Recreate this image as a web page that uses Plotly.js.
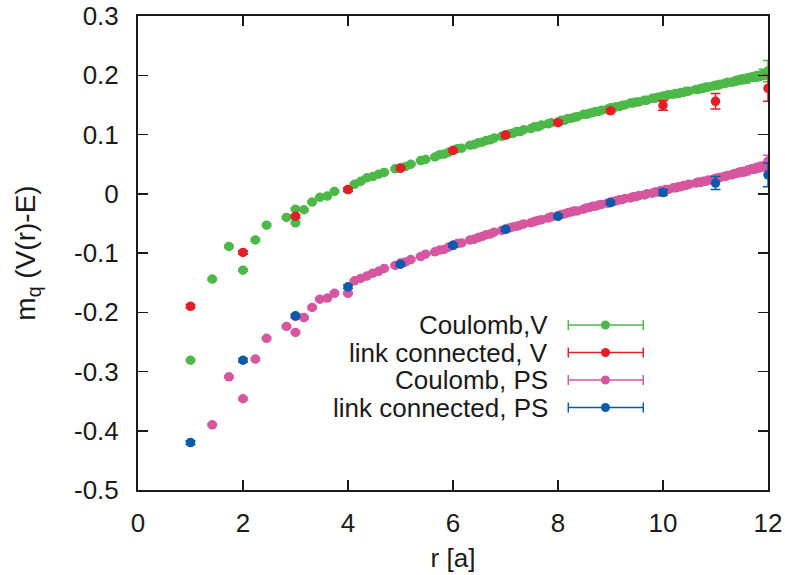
<!DOCTYPE html>
<html>
<head>
<meta charset="utf-8">
<script src="https://cdn.plot.ly/plotly-3.0.1.min.js"></script>
<style>html,body{margin:0;padding:0;background:#fff}#chart{width:785px;height:575px}</style>
</head>
<body>
<div id="chart"></div>
<script>
// ---- Coulomb, V ----
const coulVR = [
 1.000,1.414,1.732,2.000,2.236,2.449,2.828,3.000,3.000,3.162,
 3.317,3.464,3.606,3.742,4.000,4.123,4.243,4.359,4.472,4.583,
 4.690,4.899,5.000,5.099,5.196,5.385,5.477,5.657,5.745,5.831,
 5.916,6.000,6.083,6.164,6.325,6.403,6.481,6.557,6.633,6.708,
 6.782,6.928,7.000,7.071,7.141,7.211,7.280,7.348,7.483,7.550,
 7.616,7.681,7.810,7.874,8.000,8.062,8.124,8.185,8.246,8.307,
 8.367,8.485,8.544,8.602,8.660,8.718,8.775,8.832,8.944,9.000,
 9.055,9.110,9.165,9.220,9.274,9.381,9.434,9.487,9.539,9.644,
 9.695,9.798,9.849,9.899,9.950,10.000,10.050,10.100,10.198,10.247,
 10.296,10.344,10.392,10.440,10.488,10.630,10.677,10.724,10.770,10.817,
 10.863,10.954,11.000,11.045,11.091,11.180,11.225,11.314,11.358,11.402,
 11.446,11.489,11.533,11.576,11.662,11.705,11.747,11.790,11.832,11.874,
 11.916,12.000];
const coulVY = [
 -0.281,-0.144,-0.089,-0.129,-0.078,-0.053,-0.040,-0.026,-0.049,-0.027,
 -0.014,-0.006,-0.004,0.004,0.007,0.016,0.021,0.027,0.029,0.033,
 0.036,0.042,0.044,0.046,0.050,0.056,0.058,0.062,0.066,0.067,
 0.070,0.073,0.076,0.077,0.082,0.083,0.086,0.087,0.090,0.091,
 0.094,0.097,0.099,0.101,0.102,0.105,0.105,0.108,0.110,0.113,
 0.113,0.116,0.118,0.120,0.121,0.124,0.124,0.127,0.127,0.129,
 0.130,0.134,0.134,0.136,0.137,0.139,0.139,0.141,0.143,0.145,
 0.145,0.147,0.147,0.149,0.150,0.153,0.153,0.155,0.155,0.158,
 0.158,0.161,0.161,0.163,0.163,0.165,0.165,0.167,0.168,0.169,
 0.169,0.171,0.171,0.173,0.173,0.176,0.176,0.178,0.178,0.180,
 0.180,0.182,0.183,0.183,0.185,0.186,0.188,0.188,0.190,0.190,
 0.192,0.192,0.194,0.193,0.196,0.196,0.198,0.197,0.200,0.199,
 0.202,0.207];
const coulVErr = [
 0.002,0.002,0.002,0.002,0.002,0.002,0.002,0.002,0.002,0.002,
 0.002,0.002,0.002,0.002,0.002,0.002,0.002,0.002,0.002,0.002,
 0.002,0.002,0.002,0.002,0.002,0.002,0.002,0.002,0.002,0.002,
 0.002,0.002,0.002,0.002,0.002,0.002,0.002,0.002,0.002,0.002,
 0.002,0.002,0.002,0.002,0.002,0.002,0.002,0.002,0.002,0.002,
 0.003,0.003,0.003,0.003,0.003,0.003,0.003,0.003,0.003,0.003,
 0.003,0.003,0.003,0.003,0.003,0.003,0.003,0.003,0.003,0.003,
 0.003,0.003,0.003,0.003,0.003,0.003,0.003,0.003,0.003,0.003,
 0.003,0.003,0.003,0.003,0.003,0.003,0.003,0.003,0.003,0.003,
 0.004,0.004,0.004,0.004,0.004,0.004,0.004,0.004,0.004,0.004,
 0.004,0.004,0.004,0.004,0.004,0.004,0.004,0.004,0.004,0.004,
 0.006,0.006,0.006,0.006,0.006,0.006,0.006,0.006,0.006,0.006,
 0.008,0.018];

// ---- link connected, V ----
const linkVR = [1,2,3,4,5,6,7,8,9,10,11,12];
const linkVY = [-0.190,-0.099,-0.038,0.007,0.043,0.073,0.099,0.120,0.140,0.149,0.156,0.178];
const linkVErr = [0.003,0.003,0.003,0.003,0.003,0.003,0.003,0.003,0.003,0.008,0.013,0.022];

// ---- Coulomb, PS ----
const coulPR = [
 1.414,1.732,2.000,2.236,2.449,2.828,3.000,3.000,3.162,3.317,
 3.464,3.606,3.742,4.000,4.123,4.243,4.359,4.472,4.583,4.690,
 4.899,5.000,5.099,5.196,5.385,5.477,5.657,5.745,5.831,5.916,
 6.000,6.083,6.164,6.325,6.403,6.481,6.557,6.633,6.708,6.782,
 6.928,7.000,7.071,7.141,7.211,7.280,7.348,7.483,7.550,7.616,
 7.681,7.810,7.874,8.000,8.062,8.124,8.185,8.246,8.307,8.367,
 8.485,8.544,8.602,8.660,8.718,8.775,8.832,8.944,9.000,9.055,
 9.110,9.165,9.220,9.274,9.381,9.434,9.487,9.539,9.644,9.695,
 9.798,9.849,9.899,9.950,10.000,10.050,10.100,10.198,10.247,10.296,
 10.344,10.392,10.440,10.488,10.630,10.677,10.724,10.770,10.817,10.863,
 10.954,11.000,11.045,11.091,11.180,11.225,11.314,11.358,11.402,11.446,
 11.489,11.533,11.576,11.662,11.705,11.747,11.790,11.832,11.874,11.916,
 12.000];
const coulPY = [
 -0.390,-0.309,-0.346,-0.279,-0.244,-0.224,-0.234,-0.207,-0.209,-0.192,
 -0.178,-0.176,-0.168,-0.168,-0.147,-0.143,-0.139,-0.134,-0.131,-0.126,
 -0.121,-0.117,-0.115,-0.111,-0.106,-0.102,-0.098,-0.095,-0.094,-0.090,
 -0.087,-0.084,-0.083,-0.078,-0.077,-0.074,-0.072,-0.069,-0.068,-0.065,
 -0.062,-0.060,-0.058,-0.056,-0.055,-0.053,-0.051,-0.049,-0.047,-0.045,
 -0.044,-0.041,-0.039,-0.037,-0.035,-0.034,-0.032,-0.031,-0.029,-0.029,
 -0.026,-0.024,-0.023,-0.021,-0.021,-0.019,-0.018,-0.016,-0.014,-0.013,
 -0.012,-0.010,-0.010,-0.008,-0.007,-0.005,-0.005,-0.003,-0.002,0.000,
 0.001,0.003,0.003,0.005,0.005,0.007,0.007,0.010,0.010,0.012,
 0.012,0.014,0.014,0.016,0.018,0.020,0.019,0.021,0.021,0.023,
 0.024,0.026,0.026,0.028,0.029,0.031,0.032,0.034,0.034,0.036,
 0.036,0.038,0.038,0.041,0.041,0.043,0.043,0.045,0.045,0.047,
 0.055];
const coulPErr = [
 0.002,0.002,0.002,0.002,0.002,0.002,0.002,0.002,0.002,0.002,
 0.002,0.002,0.002,0.002,0.002,0.002,0.002,0.002,0.002,0.002,
 0.002,0.002,0.002,0.002,0.002,0.002,0.002,0.002,0.002,0.002,
 0.002,0.002,0.002,0.002,0.002,0.002,0.002,0.002,0.002,0.002,
 0.002,0.002,0.002,0.002,0.002,0.002,0.002,0.002,0.002,0.002,
 0.003,0.003,0.003,0.003,0.003,0.003,0.003,0.003,0.003,0.003,
 0.003,0.003,0.003,0.003,0.003,0.003,0.003,0.003,0.003,0.003,
 0.003,0.003,0.003,0.003,0.003,0.003,0.003,0.003,0.003,0.003,
 0.003,0.003,0.003,0.003,0.003,0.003,0.003,0.003,0.003,0.003,
 0.004,0.004,0.004,0.004,0.004,0.004,0.004,0.004,0.004,0.004,
 0.004,0.004,0.004,0.004,0.004,0.004,0.004,0.004,0.004,0.004,
 0.006,0.006,0.006,0.006,0.006,0.006,0.006,0.006,0.006,0.006,
 0.010];

// ---- link connected, PS ----
const linkPR = [1,2,3,4,5,6,7,8,9,10,11,12];
const linkPY = [-0.420,-0.281,-0.206,-0.157,-0.119,-0.087,-0.060,-0.038,-0.015,0.002,0.018,0.032];
const linkPErr = [0.003,0.003,0.003,0.003,0.003,0.003,0.003,0.003,0.003,0.005,0.011,0.020];

// tick labels
const xTicks = [0,2,4,6,8,10,12];
const xTickText = ['0','2','4','6','8','10','12'];
const yTicks = [-0.5,-0.4,-0.3,-0.2,-0.1,0,0.1,0.2,0.3];
const yTickText = ['-0.5','-0.4','-0.3','-0.2','-0.1','0','0.1','0.2','0.3'];

const seriesNames = ['Coulomb,V','link connected, V','Coulomb, PS','link connected, PS'];
const seriesColors = ['#4db848','#e41e26','#d6569f','#0a5aac'];

function tr(x, y, err, i) {
  return {
    type: 'scatter', mode: 'markers', x: x, y: y, name: seriesNames[i],
    marker: {color: seriesColors[i], size: 9.5, line: {width: 0}},
    error_y: {type: 'data', array: err, visible: true, color: seriesColors[i], thickness: 1.5, width: 5},
    showlegend: false, cliponaxis: true
  };
}

const data = [
  tr(coulVR, coulVY, coulVErr, 0),
  tr(linkVR, linkVY, linkVErr, 1),
  tr(coulPR, coulPY, coulPErr, 2),
  tr(linkPR, linkPY, linkPErr, 3)
];

// hand-drawn gnuplot-style key
const keyRowsY = [0.348, 0.290, 0.232, 0.174];
const keyTextX = 0.654, keyL = 0.683, keyR = 0.802, keyDot = 0.742;
const shapes = [], annotations = [];
for (let i = 0; i < 4; i++) {
  const y = keyRowsY[i], c = seriesColors[i];
  shapes.push({type:'line', xref:'paper', yref:'paper', x0:keyL, x1:keyR, y0:y, y1:y, line:{color:c, width:1.5}});
  [keyL, keyR].forEach(function(xx){
    shapes.push({type:'line', xref:'paper', yref:'paper', ysizemode:'pixel', yanchor:y, x0:xx, x1:xx, y0:-5, y1:5, line:{color:c, width:1.5}});
  });
  shapes.push({type:'circle', xref:'paper', yref:'paper', xsizemode:'pixel', ysizemode:'pixel', xanchor:keyDot, yanchor:y, x0:-4.5, x1:4.5, y0:-4.5, y1:4.5, fillcolor:c, line:{width:0}});
  annotations.push({xref:'paper', yref:'paper', x:keyTextX, y:y, xanchor:'right', yanchor:'middle', text:seriesNames[i], showarrow:false, font:{family:'Liberation Sans, Arial, sans-serif', size:26, color:'#1a1a1a'}});
}

const fontFam = 'Liberation Sans, Arial, sans-serif';
const layout = {
  width: 785, height: 575,
  margin: {l: 138, r: 17, t: 16, b: 85},
  paper_bgcolor: '#fff', plot_bgcolor: '#fff',
  font: {family: fontFam, size: 26, color: '#1a1a1a'},
  showlegend: false,
  xaxis: {
    range: [0, 12], tickvals: xTicks, ticktext: xTickText,
    ticks: 'inside', ticklen: 10, tickwidth: 1.5, tickcolor: '#1a1a1a',
    showline: true, linecolor: '#1a1a1a', linewidth: 2, mirror: 'ticks',
    showgrid: false, zeroline: false, ticklabelstandoff: 9,
    tickfont: {family: fontFam, size: 26, color: '#1a1a1a'},
    title: {text: 'r [a]', font: {family: fontFam, size: 26, color: '#1a1a1a'}, standoff: 12}
  },
  yaxis: {
    range: [-0.5, 0.3], tickvals: yTicks, ticktext: yTickText,
    ticks: 'inside', ticklen: 10, tickwidth: 1.5, tickcolor: '#1a1a1a',
    showline: true, linecolor: '#1a1a1a', linewidth: 2, mirror: 'ticks',
    showgrid: false, zeroline: false, ticklabelstandoff: 12,
    tickfont: {family: fontFam, size: 26, color: '#1a1a1a'},
    title: {text: 'm<sub>q</sub> (V(r)-E)', font: {family: fontFam, size: 28, color: '#1a1a1a'}, standoff: 30}
  },
  shapes: shapes,
  annotations: annotations
};

Plotly.newPlot('chart', data, layout, {displayModeBar: false, staticPlot: true});
</script>
</body>
</html>
